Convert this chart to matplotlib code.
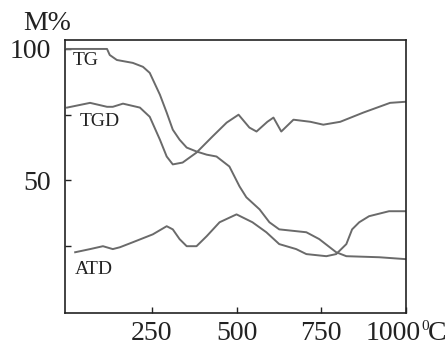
import matplotlib
matplotlib.use("Agg")
import matplotlib.pyplot as plt

# Data (temperature in degC, mass %)
tg_x = [0, 118, 126, 147, 194, 224, 244, 274, 294, 312, 332, 353, 382, 412, 441,
        479, 509, 529, 568, 597, 626, 706, 744, 794, 824, 921, 997]
tg_y = [100, 100, 97.7, 95.8, 94.7, 93.2, 90.9, 82.6, 75.8, 69.3, 65.5, 62.5, 61,
        59.8, 59.1, 55.3, 47.7, 43.6, 39, 34.1, 31.4, 30.3, 27.7, 22.7, 21.2, 20.8, 20.1]

tgd_x = [0, 68, 118, 135, 165, 215, 244, 274, 294, 312, 341, 382, 429, 471, 506,
         538, 559, 591, 609, 632, 668, 718, 756, 806, 874, 953, 997]
tgd_y = [77.7, 79.5, 78, 78, 79.2, 77.7, 74.2, 65.5, 59.1, 56.1, 56.8, 60.6, 66.7,
         72, 75, 70.1, 68.6, 72.3, 73.9, 68.6, 73.1, 72.3, 71.2, 72.3, 75.8, 79.5, 79.9]

atd_x = [24, 68, 106, 135, 156, 194, 253, 294, 312, 332, 353, 382, 412, 450, 500,
         547, 588, 626, 676, 706, 765, 794, 824, 841, 862, 891, 950, 997]
atd_y = [22.7, 23.9, 25, 23.9, 24.6, 26.5, 29.5, 32.6, 31.4, 27.7, 25, 25, 28.8,
         34.1, 37.1, 34.1, 30.3, 25.8, 23.9, 22, 21.2, 22, 25.8, 31.4, 34.1, 36.4, 38.3, 38.3]

x_ticks = [250, 500, 750, 1000]
x_tick_labels = ["250", "500", "750", ""]
last_x_label = "1000"
unit_sup = "0"
unit = "C"
y_ticks = [25, 50, 75, 100]
y_tick_labels = ["", "50", "", "100"]

plt.rcParams['font.family'] = ['Liberation Serif', 'DejaVu Serif']

fig = plt.figure(figsize=(4.48, 3.45), dpi=100)
ax = fig.add_axes([65/448, 1-313/345, (406-65)/448, (313-40)/345])

col = '#6a6a6a'
ax.plot(tg_x, tg_y, color=col, lw=1.4)
ax.plot(tgd_x, tgd_y, color=col, lw=1.4)
ax.plot(atd_x, atd_y, color=col, lw=1.4)

ax.set_xlim(-6, 1000)
ax.set_ylim(-0.4, 103.4)
ax.set_xticks(x_ticks)
ax.set_xticklabels(x_tick_labels)
ax.set_yticks(y_ticks)
ax.set_yticklabels(y_tick_labels)
ax.tick_params(direction='in', length=4, width=1, labelsize=20, colors='#222222')
ax.tick_params(axis='x', pad=6)
ax.tick_params(axis='y', pad=10)
for s in ax.spines.values():
    s.set_linewidth(1.2)
    s.set_color('#222222')

ax.text(56, 95.5, "TG", fontsize=14, ha='center', va='center', color='#222222')
ax.text(97, 72.3, "TGD", fontsize=14, ha='center', va='center', color='#222222')
ax.text(79, 16.3, "ATD", fontsize=14, ha='center', va='center', color='#222222')
fig.text(47/448, 1-24/345, "M%", fontsize=20, ha='center', va='center', color='#222222')

# "1000 0C" label at right end of x axis
fig.text(421/448, 1-334/345, last_x_label, fontsize=20, ha='right', va='center', color='#222222')
fig.text(425.5/448, 1-326/345, unit_sup, fontsize=11, ha='center', va='center', color='#222222')
fig.text(428/448, 1-334/345, unit, fontsize=20, ha='left', va='center', color='#222222')

fig.savefig("out.png", dpi=100)
